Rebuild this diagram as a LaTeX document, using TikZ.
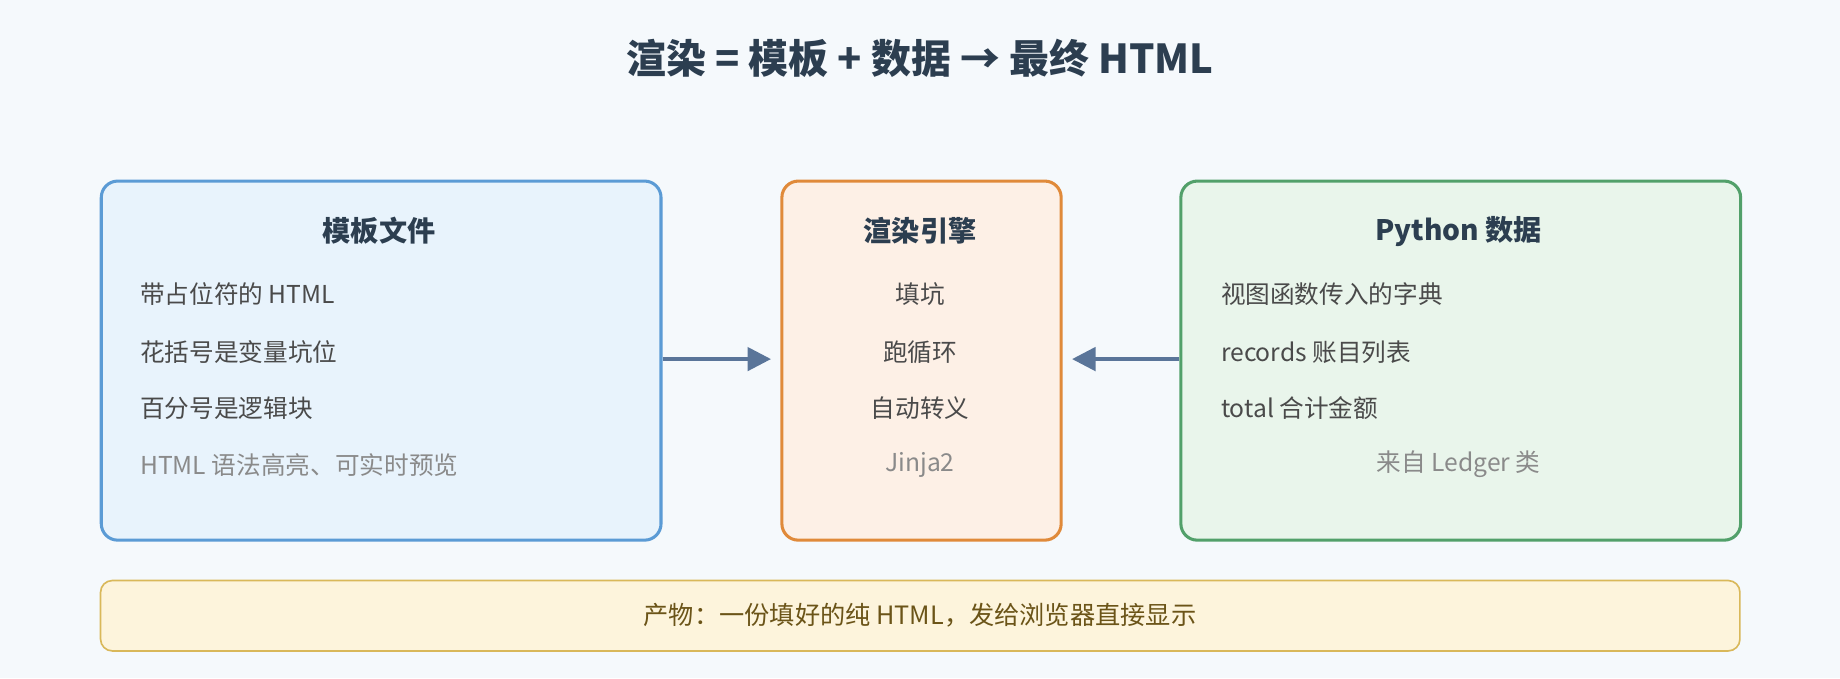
\documentclass[tikz,border=0pt]{standalone}
\usepackage{fontspec}
\setmainfont{Noto Sans CJK SC}
\usetikzlibrary{positioning,arrows.meta}
\definecolor{bgc}{HTML}{F5F9FC}
\definecolor{ink}{HTML}{2C3E50}
\definecolor{txt}{HTML}{4A4A4A}
\definecolor{mute}{HTML}{8A8A8A}
\definecolor{blueb}{HTML}{5B9BD5}
\definecolor{bluef}{HTML}{E8F3FC}
\definecolor{orab}{HTML}{E08A3A}
\definecolor{oraf}{HTML}{FDF0E6}
\definecolor{grnb}{HTML}{52A06A}
\definecolor{grnf}{HTML}{E9F5EB}
\definecolor{yelb}{HTML}{D9B85A}
\definecolor{yelf}{HTML}{FDF4DC}
\definecolor{brn}{HTML}{6B5418}
\definecolor{arr}{HTML}{5A7599}
\tikzset{
  box/.style={draw, line width=2.6pt, rounded corners=14pt, anchor=north west},
  head/.style={font=\fontsize{24}{28}\selectfont\bfseries, text=ink},
  item/.style={font=\fontsize{21}{24}\selectfont, text=txt},
  note/.style={font=\fontsize{21}{24}\selectfont, text=mute},
  flow/.style={draw=arr, line width=3pt, -{Triangle[length=20pt,width=20pt]}}
}
\begin{document}
\begin{tikzpicture}[x=1pt, y=-1pt]
  \fill[bgc] (0,0) rectangle (1568,578);
  \useasboundingbox (0,0) rectangle (1568,578);
  % titolo
  \node[font=\fontsize{34}{38}\selectfont\bfseries, text=ink] (title) at (784,50) {渲染 = 模板 + 数据 → 最终 HTML};

  % --- riquadri ---
  \node[box, draw=blueb, fill=bluef, minimum width=477pt, minimum height=306pt] (tmpl) at (85,153) {};
  \node[box, draw=orab, fill=oraf, minimum width=238pt, minimum height=306pt] (engine) at (665,153) {};
  \node[box, draw=grnb, fill=grnf, minimum width=477pt, minimum height=306pt] (data) at (1005,153) {};
  \node[box, draw=yelb, fill=yelf, line width=1.4pt, rounded corners=10pt, minimum width=1397pt, minimum height=60pt] (result) at (85,494) {};

  % --- testi ---
  \node[head] (tmplT) at (323,197) {模板文件};
  \node[item, anchor=west] (t1) at (116,251) {带占位符的 HTML};
  \node[item, anchor=west] (t2) at (116,300) {花括号是变量坑位};
  \node[item, anchor=west] (t3) at (116,348) {百分号是逻辑块};
  \node[note, anchor=west] (t4) at (116,396) {HTML 语法高亮、可实时预览};

  \node[head] (engineT) at (784,197) {渲染引擎};
  \node[item] (e1) at (784,251) {填坑};
  \node[item] (e2) at (784,300) {跑循环};
  \node[item] (e3) at (784,348) {自动转义};
  \node[note] (e4) at (784,396) {Jinja2};

  \node[head] (dataT) at (1243,197) {Python 数据};
  \node[item, anchor=west] (d1) at (1037,251) {视图函数传入的字典};
  \node[item, anchor=west] (d2) at (1037,300) {records 账目列表};
  \node[item, anchor=west] (d3) at (1037,348) {total 合计金额};
  \node[note] (d4) at (1243,396) {来自 Ledger 类};

  \node[font=\fontsize{21.5}{24}\selectfont, text=brn] (resultT) at (784,524) {产物：一份填好的纯 HTML，发给浏览器直接显示};

  % --- frecce ---
  \draw[flow, shorten >=8pt] (tmpl.east |- 0,306) -- (engine.west |- 0,306);
  \draw[flow, shorten >=8pt] (data.west |- 0,306) -- (engine.east |- 0,306);
\end{tikzpicture}
\end{document}
